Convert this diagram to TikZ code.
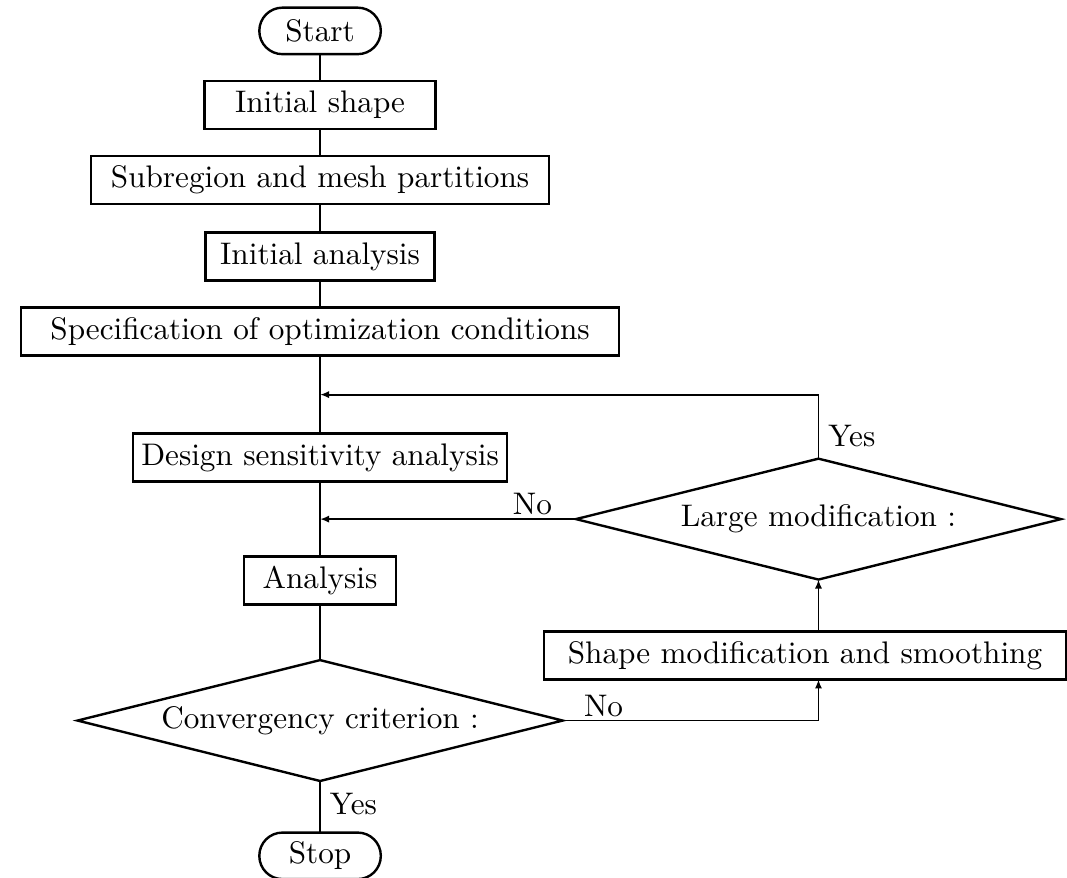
\documentclass[tikz,border=0pt]{standalone}
\usepackage{tikz}
\usetikzlibrary{arrows.meta,positioning,shapes.geometric,calc}
\tikzset{
 box/.style={draw,line width=0.8pt,align=center,minimum height=16pt,inner sep=2pt,
             outer sep=0pt,font=\fontsize{10.4}{12.5}\selectfont},
 term/.style={box,rounded corners=7.7pt,minimum height=15.5pt,minimum width=40.5pt},
 decision/.style={draw,diamond,aspect=4,line width=0.8pt,inner sep=0pt,outer sep=0pt,
             minimum width=161.7pt,minimum height=40.3pt,font=\fontsize{10.4}{12.5}\selectfont},
 line/.style={line width=0.6pt},
 arrow/.style={-{Latex[length=3pt,width=2.4pt]},line width=0.6pt},
 lbl/.style={inner sep=1pt,font=\fontsize{10.4}{12.5}\selectfont}
}
\begin{document}
\begin{tikzpicture}[node distance=9pt]
\useasboundingbox (-106.7pt,10.3pt) rectangle (249pt,-282.3pt);
\node[term] (start) at (0,0) {Start};
\node[box,minimum width=77pt,below=of start] (shape) {Initial shape};
\node[box,minimum width=152.7pt,below=of shape] (mesh) {Subregion and mesh partitions};
\node[box,minimum width=76.3pt,below=9.5pt of mesh] (init) {Initial analysis};
\node[box,minimum width=199.3pt,below=of init] (spec) {Specification of optimization conditions};
\node[box,minimum width=124.7pt,below=26pt of spec] (sens) {Design sensitivity analysis};
\node[box,minimum width=50.7pt,below=25pt of sens] (ana) {Analysis};
\node[decision,below=18.5pt of ana] (conv) {Convergency criterion :};
\node[term,below=17.2pt of conv] (stop) {Stop};
\coordinate (yesin) at ($(spec.south)!0.5!(sens.north)$);
\coordinate (noin) at ($(sens.south)!0.5!(ana.north)$);
\node[decision,right=85.3pt of noin] (large) {Large modification :};
\node[box,minimum width=174pt,below=17.3pt of large,xshift=-4.5pt] (smooth) {Shape modification and smoothing};
\draw[line] (start)--(shape)--(mesh)--(init)--(spec)--(sens)--(ana)--(conv);
\draw[line] (conv)--node[lbl,right=2pt,pos=0.45]{Yes}(stop);
\draw[arrow] (large.north) |- node[lbl,right=2pt,pos=0.18]{Yes} (yesin);
\draw[arrow] (large.west) -- node[lbl,above,pos=0.17]{No} (noin);
\draw[arrow] (conv.east) -| node[lbl,above,pos=0.08]{No} (smooth.south -| large.south);
\draw[arrow] (smooth.north -| large.south) -- (large.south);
\end{tikzpicture}
\end{document}
